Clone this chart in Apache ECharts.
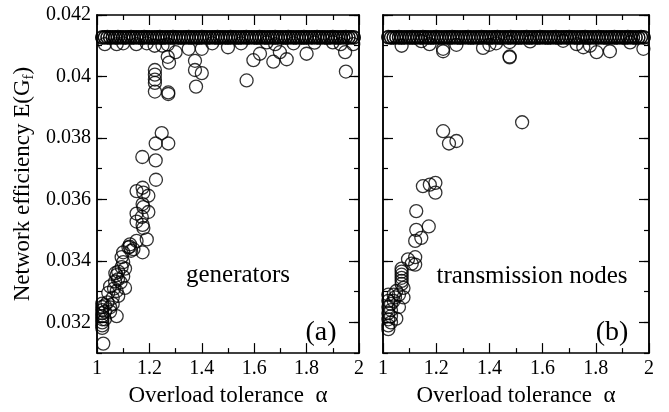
<!DOCTYPE html>
<html>
<head>
<meta charset="utf-8">
<script src="https://cdn.jsdelivr.net/npm/echarts@6/dist/echarts.min.js"></script>
<style>
  html, body { margin: 0; padding: 0; background: #fff; }
  #chart { width: 669px; height: 412px; }
</style>
</head>
<body>
<div id="chart"></div>
<script>
// alpha values of the top plateau row (both panels)
const alphaGrid = [
  1.02, 1.03, 1.04, 1.05, 1.06, 1.07, 1.08, 1.09, 1.10, 1.11,
  1.12, 1.13, 1.14, 1.15, 1.16, 1.17, 1.18, 1.19, 1.20, 1.21,
  1.22, 1.23, 1.24, 1.25, 1.26, 1.27, 1.28, 1.29, 1.30, 1.31,
  1.32, 1.33, 1.34, 1.35, 1.36, 1.37, 1.38, 1.39, 1.40, 1.41,
  1.42, 1.43, 1.44, 1.45, 1.46, 1.47, 1.48, 1.49, 1.50, 1.51,
  1.52, 1.53, 1.54, 1.55, 1.56, 1.57, 1.58, 1.59, 1.60, 1.61,
  1.62, 1.63, 1.64, 1.65, 1.66, 1.67, 1.68, 1.69, 1.70, 1.71,
  1.72, 1.73, 1.74, 1.75, 1.76, 1.77, 1.78, 1.79, 1.80, 1.81,
  1.82, 1.83, 1.84, 1.85, 1.86, 1.87, 1.88, 1.89, 1.90, 1.91,
  1.92, 1.93, 1.94, 1.95, 1.96, 1.97, 1.98
];
// plateau efficiency, generators panel (a), two realisations
const genTop = [
  0.04128, 0.04128, 0.04129, 0.04128, 0.04128, 0.04128, 0.04129, 0.04128, 0.04128, 0.04128,
  0.04128, 0.04129, 0.04128, 0.04128, 0.04128, 0.04128, 0.04129, 0.04128, 0.04128, 0.04128,
  0.04128, 0.04128, 0.04129, 0.04128, 0.04128, 0.04128, 0.04128, 0.04129, 0.04128, 0.04128,
  0.04128, 0.04128, 0.04128, 0.04129, 0.04128, 0.04128, 0.04128, 0.04128, 0.04129, 0.04128,
  0.04128, 0.04128, 0.04128, 0.04128, 0.04129, 0.04128, 0.04128, 0.04128, 0.04128, 0.04129,
  0.04128, 0.04128, 0.04128, 0.04128, 0.04128, 0.04129, 0.04128, 0.04128, 0.04128, 0.04128,
  0.04129, 0.04128, 0.04128, 0.04128, 0.04128, 0.04128, 0.04129, 0.04128, 0.04128, 0.04128,
  0.04128, 0.04129, 0.04128, 0.04128, 0.04128, 0.04128, 0.04128, 0.04129, 0.04128, 0.04128,
  0.04128, 0.04128, 0.04129, 0.04128, 0.04128, 0.04128, 0.04128, 0.04128, 0.04129, 0.04128,
  0.04128, 0.04128, 0.04128, 0.04129, 0.04128, 0.04128, 0.04128
];
const genTop2 = [
  0.04126, 0.04127, 0.04126, 0.04126, 0.04127, 0.04126, 0.04126, 0.04127, 0.04126, 0.04126,
  0.04127, 0.04126, 0.04126, 0.04127, 0.04126, 0.04126, 0.04126, 0.04127, 0.04126, 0.04126,
  0.04126, 0.04127, 0.04126, 0.04126, 0.04126, 0.04127, 0.04126, 0.04126, 0.04127, 0.04126,
  0.04126, 0.04126, 0.04127, 0.04126, 0.04126, 0.04127, 0.04126, 0.04126, 0.04126, 0.04127,
  0.04126, 0.04126, 0.04127, 0.04126, 0.04126, 0.04126, 0.04127, 0.04126, 0.04126, 0.04126,
  0.04127, 0.04126, 0.04126, 0.04126, 0.04127, 0.04126, 0.04126, 0.04127, 0.04126, 0.04126,
  0.04126, 0.04127, 0.04126, 0.04126, 0.04127, 0.04126, 0.04126, 0.04126, 0.04127, 0.04126,
  0.04126, 0.04126, 0.04127, 0.04126, 0.04126, 0.04127, 0.04126, 0.04126, 0.04126, 0.04127,
  0.04126, 0.04127, 0.04126, 0.04126, 0.04127, 0.04126, 0.04126, 0.04126, 0.04127, 0.04126,
  0.04126, 0.04126, 0.04127, 0.04126, 0.04126, 0.04127, 0.04126
];
// plateau efficiency, transmission nodes panel (b), two realisations
const transTop = [
  0.04129, 0.04128, 0.04128, 0.04128, 0.04129, 0.04128, 0.04128, 0.04128, 0.04128, 0.04129,
  0.04128, 0.04128, 0.04128, 0.04129, 0.04128, 0.04128, 0.04128, 0.04128, 0.04129, 0.04128,
  0.04128, 0.04128, 0.04128, 0.04128, 0.04129, 0.04128, 0.04128, 0.04128, 0.04128, 0.04128,
  0.04129, 0.04128, 0.04128, 0.04128, 0.04128, 0.04129, 0.04128, 0.04128, 0.04128, 0.04128,
  0.04128, 0.04129, 0.04128, 0.04128, 0.04128, 0.04128, 0.04129, 0.04128, 0.04128, 0.04128,
  0.04128, 0.04128, 0.04129, 0.04128, 0.04128, 0.04128, 0.04128, 0.04129, 0.04128, 0.04128,
  0.04128, 0.04128, 0.04128, 0.04129, 0.04128, 0.04128, 0.04128, 0.04128, 0.04129, 0.04128,
  0.04128, 0.04128, 0.04128, 0.04128, 0.04129, 0.04128, 0.04128, 0.04128, 0.04128, 0.04129,
  0.04128, 0.04128, 0.04128, 0.04128, 0.04128, 0.04129, 0.04128, 0.04128, 0.04128, 0.04128,
  0.04129, 0.04128, 0.04128, 0.04128, 0.04128, 0.04129, 0.04128
];
const transTop2 = [
  0.04127, 0.04126, 0.04126, 0.04127, 0.04126, 0.04126, 0.04126, 0.04127, 0.04126, 0.04126,
  0.04126, 0.04127, 0.04126, 0.04126, 0.04127, 0.04126, 0.04126, 0.04126, 0.04127, 0.04126,
  0.04126, 0.04126, 0.04127, 0.04126, 0.04126, 0.04127, 0.04126, 0.04126, 0.04126, 0.04127,
  0.04126, 0.04126, 0.04126, 0.04127, 0.04126, 0.04126, 0.04127, 0.04126, 0.04126, 0.04126,
  0.04127, 0.04126, 0.04126, 0.04126, 0.04127, 0.04126, 0.04126, 0.04127, 0.04126, 0.04126,
  0.04126, 0.04127, 0.04126, 0.04126, 0.04126, 0.04127, 0.04126, 0.04126, 0.04127, 0.04126,
  0.04126, 0.04126, 0.04127, 0.04126, 0.04126, 0.04126, 0.04127, 0.04126, 0.04126, 0.04127,
  0.04126, 0.04126, 0.04126, 0.04127, 0.04126, 0.04126, 0.04126, 0.04127, 0.04126, 0.04126,
  0.04127, 0.04126, 0.04126, 0.04126, 0.04127, 0.04126, 0.04126, 0.04127, 0.04126, 0.04126,
  0.04126, 0.04127, 0.04126, 0.04126, 0.04126, 0.04127, 0.04126
];
// remaining realisations [alpha, E], generators
const genPoints = [
  [1.03, 0.04105], [1.075, 0.04105], [1.10, 0.04108], [1.15, 0.04105], [1.19, 0.04108],
  [1.22, 0.04100], [1.25, 0.04100], [1.27, 0.04104], [1.30, 0.04079], [1.35, 0.04090],
  [1.40, 0.04090], [1.44, 0.04108], [1.50, 0.04095], [1.55, 0.04108], [1.648, 0.04111],
  [1.68, 0.04105], [1.75, 0.04108], [1.83, 0.04110], [1.90, 0.04111], [1.93, 0.04105],
  [1.978, 0.04105],
  [1.221, 0.04021], [1.221, 0.04006], [1.221, 0.03990], [1.221, 0.03979], [1.221, 0.03951],
  [1.272, 0.03948], [1.272, 0.03943], [1.27, 0.04064], [1.275, 0.04045],
  [1.374, 0.04051], [1.374, 0.04021], [1.40, 0.04011], [1.378, 0.03967],
  [1.571, 0.03987], [1.597, 0.04053], [1.622, 0.04074], [1.673, 0.04048], [1.698, 0.04079],
  [1.724, 0.04056], [1.80, 0.04074], [1.947, 0.04079], [1.95, 0.04016],
  [1.247, 0.03816], [1.224, 0.03782], [1.272, 0.03782], [1.173, 0.03738], [1.224, 0.03727],
  [1.225, 0.03664],
  [1.151, 0.03627], [1.174, 0.03638], [1.177, 0.03622], [1.196, 0.03612],
  [1.174, 0.03585], [1.177, 0.03575], [1.196, 0.03559], [1.151, 0.03554], [1.171, 0.03543],
  [1.151, 0.03528], [1.174, 0.03517], [1.177, 0.03507], [1.19, 0.03470],
  [1.151, 0.03465], [1.126, 0.03454], [1.12, 0.03444], [1.13, 0.03433], [1.174, 0.03428],
  [1.139, 0.03438], [1.125, 0.03446], [1.10, 0.03428], [1.094, 0.03412],
  [1.10, 0.03396], [1.094, 0.03380], [1.107, 0.03375], [1.081, 0.03365], [1.10, 0.03349],
  [1.075, 0.03354], [1.069, 0.03333], [1.107, 0.03312], [1.05, 0.03317], [1.075, 0.03302],
  [1.043, 0.03296], [1.081, 0.03286], [1.07, 0.03360], [1.08, 0.03340], [1.09, 0.03330],
  [1.075, 0.03220], [1.024, 0.03131],
  [1.02, 0.03261], [1.02, 0.03250], [1.02, 0.03240], [1.02, 0.03230], [1.02, 0.03220],
  [1.02, 0.03210], [1.02, 0.03200], [1.02, 0.03190], [1.02, 0.03182],
  [1.03, 0.03255], [1.03, 0.03235], [1.03, 0.03210], [1.04, 0.03265], [1.05, 0.03249],
  [1.05, 0.03235], [1.06, 0.03280], [1.06, 0.03260], [1.065, 0.03310]
];
// remaining realisations [alpha, E], transmission nodes
const transPoints = [
  [1.07, 0.04100], [1.144, 0.04115], [1.175, 0.04105], [1.226, 0.04090], [1.226, 0.04082],
  [1.276, 0.04103], [1.376, 0.04093], [1.40, 0.04103], [1.425, 0.04108], [1.476, 0.04112],
  [1.553, 0.04114], [1.677, 0.04116], [1.728, 0.04105], [1.753, 0.04095], [1.778, 0.04100],
  [1.803, 0.04079], [1.853, 0.04082], [1.929, 0.04111], [1.979, 0.04090],
  [1.476, 0.04065], [1.476, 0.04062], [1.523, 0.03851],
  [1.226, 0.03822], [1.248, 0.03782], [1.276, 0.03790],
  [1.150, 0.03643], [1.176, 0.03648], [1.197, 0.03654], [1.197, 0.03622],
  [1.125, 0.03562], [1.125, 0.03501], [1.172, 0.03512], [1.144, 0.03475], [1.121, 0.03465],
  [1.094, 0.03405], [1.121, 0.03412], [1.121, 0.03388], [1.108, 0.03391],
  [1.07, 0.03375], [1.07, 0.03365], [1.07, 0.03355], [1.07, 0.03345], [1.07, 0.03335],
  [1.07, 0.03325], [1.077, 0.03312], [1.077, 0.03281],
  [1.02, 0.03290], [1.02, 0.03270], [1.02, 0.03250], [1.02, 0.03230], [1.02, 0.03210],
  [1.02, 0.03190], [1.02, 0.03178], [1.03, 0.03260], [1.03, 0.03240], [1.03, 0.03220],
  [1.03, 0.03200], [1.04, 0.03290], [1.04, 0.03270], [1.045, 0.03281], [1.05, 0.03302],
  [1.05, 0.03212], [1.06, 0.03290], [1.06, 0.03250]
];
const yTicks = [0.032, 0.034, 0.036, 0.038, 0.04, 0.042];

const serif = "Liberation Serif";
const black = "#000";

function panelData(tops, rest) {
  let out = [];
  tops.forEach((top) => {
    alphaGrid.forEach((a, i) => {
      if (top[i] != null) out.push([a, top[i]]);
    });
  });
  return out.concat(rest);
}

function xAxes(gi) {
  let base = {
    gridIndex: gi,
    type: "value",
    min: 1,
    max: 2,
    interval: 0.2,
    splitLine: { show: false },
    axisLine: { lineStyle: { color: black, width: 1.5 } },
    axisTick: { inside: true, length: 10, lineStyle: { color: black, width: 1.2 } },
    minorTick: { show: true, splitNumber: 2, length: 5, lineStyle: { color: black, width: 1.2 } },
  };
  return [
    Object.assign({}, base, {
      position: "bottom",
      axisLabel: {
        color: black,
        fontFamily: serif,
        fontSize: 20,
        margin: 6,
        formatter: (v) => String(+v.toFixed(1)),
      },
      name: "Overload tolerance  α",
      nameLocation: "middle",
      nameGap: 28,
      nameTextStyle: { color: black, fontFamily: serif, fontSize: 23 },
    }),
    Object.assign({}, base, { position: "top", axisLabel: { show: false } }),
  ];
}

function yAxes(gi, withLabels) {
  let base = {
    gridIndex: gi,
    type: "value",
    min: 0.031,
    max: 0.042,
    splitLine: { show: false },
    axisLine: { lineStyle: { color: black, width: 1.5 } },
  };
  //主刻度
  let major = Object.assign({}, base, {
    axisTick: { inside: true, length: 10, customValues: yTicks, lineStyle: { color: black, width: 1.2 } },
  });
  //次刻度
  let minor = Object.assign({}, base, {
    interval: 0.001,
    axisTick: { inside: true, length: 5, lineStyle: { color: black, width: 1.2 } },
    axisLabel: { show: false },
  });
  let left = Object.assign({}, major, {
    position: "left",
    axisLabel: withLabels
      ? {
          color: black,
          fontFamily: serif,
          fontSize: 20,
          margin: 6,
          customValues: yTicks,
          formatter: (v) => String(+v.toFixed(3)),
        }
      : { show: false },
  });
  if (withLabels) {
    left.name = "Network efficiency E(G{s|f})";
    left.nameLocation = "middle";
    left.nameGap = 60;
    left.nameTextStyle = {
      color: black,
      fontFamily: serif,
      fontSize: 23,
      lineHeight: 28,
      rich: {
        s: { fontFamily: serif, fontSize: 15, lineHeight: 15, verticalAlign: "bottom", color: black },
      },
    };
  }
  return [
    left,
    Object.assign({}, minor, { position: "left" }),
    Object.assign({}, major, { position: "right", axisLabel: { show: false } }),
    Object.assign({}, minor, { position: "right" }),
  ];
}

function circles(xi, yi, data) {
  return {
    type: "scatter",
    xAxisIndex: xi,
    yAxisIndex: yi,
    data: data,
    symbol: "circle",
    symbolSize: 13,
    silent: true,
    itemStyle: { color: "transparent", borderColor: black, borderWidth: 1.3 },
  };
}

function label(text, x, y, size) {
  return {
    type: "text",
    x: x,
    y: y,
    style: {
      text: text,
      fill: black,
      font: size + "px '" + serif + "'",
      textAlign: "center",
      textVerticalAlign: "middle",
    },
  };
}

let myChart = echarts.init(document.getElementById("chart"));
myChart.setOption({
  animation: false,
  backgroundColor: "#fff",
  grid: [
    { left: 97, top: 15, width: 262, height: 349 },
    { left: 383, top: 15, width: 266, height: 349 },
  ],
  xAxis: xAxes(0).concat(xAxes(1)),
  yAxis: yAxes(0, true).concat(yAxes(1, false)),
  series: [
    circles(0, 0, panelData([genTop, genTop2], genPoints)),
    circles(2, 4, panelData([transTop, transTop2], transPoints)),
  ],
  graphic: [
    label("generators", 238, 275, 25),
    label("(a)", 321, 333, 28),
    label("transmission nodes", 532, 276, 25),
    label("(b)", 612, 333, 28),
  ],
});
</script>
</body>
</html>
